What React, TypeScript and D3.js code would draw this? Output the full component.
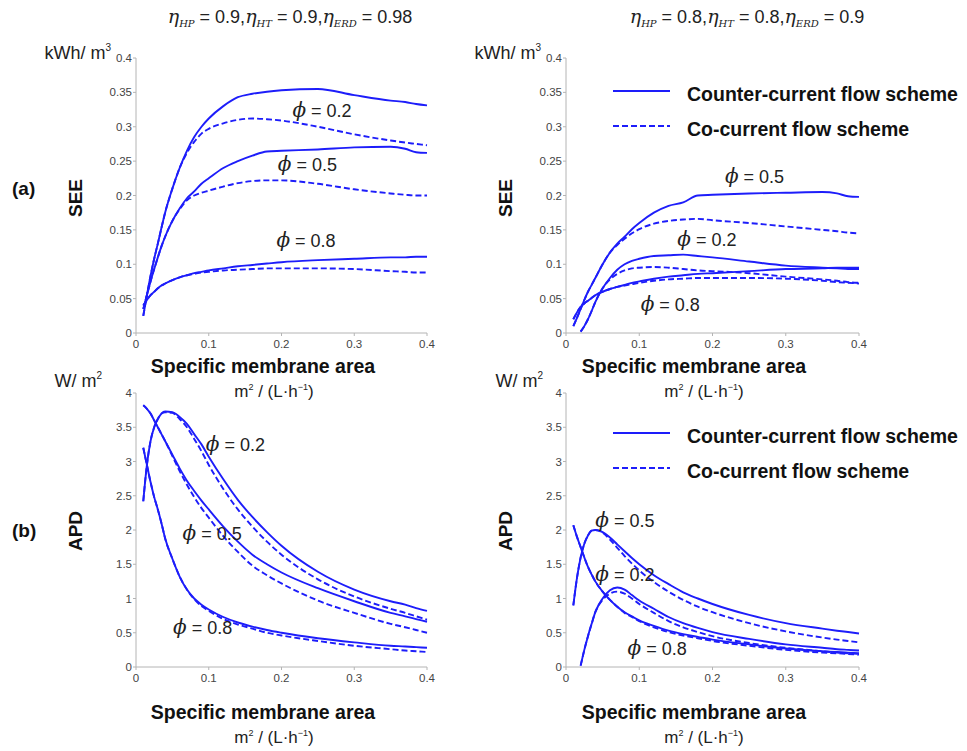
import React, { useEffect, useRef } from 'react';
import * as d3 from 'd3';

// specific membrane area, m2/(L/h)
const AREA = [0.01, 0.015, 0.02, 0.025, 0.03, 0.035, 0.04, 0.05, 0.06, 0.07, 0.08, 0.09, 0.1, 0.12, 0.14, 0.16, 0.18, 0.2, 0.25, 0.3, 0.35, 0.37, 0.385, 0.4];

// (a) SEE, eta_HP = 0.9, eta_HT = 0.9, eta_ERD = 0.98
const seeHi02Counter = [0.025, 0.055, 0.083, 0.108, 0.13, 0.153, 0.175, 0.21, 0.24, 0.265, 0.285, 0.3, 0.312, 0.33, 0.343, 0.348, 0.351, 0.353, 0.355, 0.346, 0.338, 0.336, 0.333, 0.331];
const seeHi02Co = [0.025, 0.055, 0.083, 0.108, 0.13, 0.153, 0.175, 0.21, 0.24, 0.262, 0.278, 0.29, 0.297, 0.305, 0.31, 0.312, 0.311, 0.309, 0.3, 0.289, 0.28, 0.277, 0.275, 0.273];
const seeHi05Counter = [0.035, 0.055, 0.075, 0.093, 0.11, 0.126, 0.14, 0.163, 0.181, 0.196, 0.206, 0.217, 0.225, 0.24, 0.25, 0.258, 0.264, 0.265, 0.267, 0.27, 0.271, 0.268, 0.263, 0.262];
const seeHi05Co = [0.035, 0.055, 0.075, 0.093, 0.11, 0.126, 0.14, 0.163, 0.18, 0.193, 0.2, 0.204, 0.207, 0.213, 0.218, 0.221, 0.222, 0.222, 0.217, 0.209, 0.203, 0.201, 0.2, 0.2];
const seeHi08Counter = [0.04, 0.048, 0.055, 0.06, 0.065, 0.069, 0.072, 0.077, 0.081, 0.084, 0.087, 0.089, 0.091, 0.094, 0.097, 0.099, 0.101, 0.103, 0.106, 0.108, 0.11, 0.11, 0.111, 0.111];
const seeHi08Co = [0.04, 0.048, 0.055, 0.06, 0.065, 0.069, 0.072, 0.077, 0.081, 0.084, 0.086, 0.088, 0.089, 0.091, 0.092, 0.093, 0.094, 0.094, 0.094, 0.093, 0.09, 0.089, 0.088, 0.088];

// (a) SEE, eta_HP = 0.8, eta_HT = 0.8, eta_ERD = 0.9
const seeLo05Counter = [0.01, 0.022, 0.035, 0.048, 0.06, 0.07, 0.08, 0.1, 0.117, 0.13, 0.14, 0.151, 0.16, 0.175, 0.185, 0.19, 0.2, 0.201, 0.203, 0.204, 0.205, 0.203, 0.199, 0.198];
const seeLo05Co = [0.01, 0.022, 0.035, 0.048, 0.06, 0.07, 0.08, 0.1, 0.117, 0.128, 0.137, 0.145, 0.151, 0.159, 0.163, 0.165, 0.166, 0.164, 0.16, 0.155, 0.15, 0.148, 0.146, 0.145];
const seeLo02Counter = [null, null, 0.002, 0.01, 0.02, 0.032, 0.045, 0.065, 0.08, 0.092, 0.1, 0.105, 0.108, 0.112, 0.113, 0.114, 0.112, 0.11, 0.104, 0.098, 0.095, 0.094, 0.093, 0.093];
const seeLo02Co = [null, null, 0.002, 0.01, 0.02, 0.032, 0.045, 0.065, 0.078, 0.086, 0.091, 0.094, 0.095, 0.096, 0.095, 0.093, 0.091, 0.09, 0.087, 0.082, 0.078, 0.076, 0.074, 0.073];
const seeLo08Counter = [0.02, 0.03, 0.038, 0.043, 0.047, 0.051, 0.055, 0.06, 0.064, 0.067, 0.07, 0.073, 0.075, 0.079, 0.082, 0.084, 0.086, 0.087, 0.09, 0.093, 0.094, 0.095, 0.095, 0.095];
const seeLo08Co = [0.02, 0.03, 0.038, 0.043, 0.047, 0.051, 0.055, 0.06, 0.064, 0.067, 0.069, 0.071, 0.073, 0.076, 0.078, 0.079, 0.08, 0.08, 0.08, 0.079, 0.076, 0.074, 0.073, 0.072];

// (b) APD, eta_HP = 0.9, eta_HT = 0.9, eta_ERD = 0.98
const apdHi02Counter = [2.42, 2.95, 3.3, 3.5, 3.62, 3.7, 3.73, 3.72, 3.65, 3.55, 3.4, 3.25, 3.07, 2.74, 2.44, 2.19, 1.97, 1.77, 1.39, 1.13, 0.96, 0.91, 0.86, 0.82];
const apdHi02Co = [2.42, 2.95, 3.3, 3.5, 3.62, 3.7, 3.72, 3.71, 3.62, 3.5, 3.33, 3.15, 2.95, 2.6, 2.3, 2.05, 1.83, 1.64, 1.28, 1.03, 0.85, 0.79, 0.74, 0.69];
const apdHi05Counter = [3.82, 3.77, 3.7, 3.6, 3.5, 3.4, 3.3, 3.1, 2.9, 2.72, 2.57, 2.43, 2.3, 2.05, 1.83, 1.64, 1.5, 1.38, 1.15, 0.96, 0.79, 0.74, 0.7, 0.66];
const apdHi05Co = [3.82, 3.77, 3.7, 3.6, 3.5, 3.4, 3.3, 3.08, 2.86, 2.66, 2.48, 2.32, 2.18, 1.91, 1.68, 1.48, 1.34, 1.22, 0.97, 0.79, 0.63, 0.58, 0.54, 0.5];
const apdHi08Counter = [3.2, 2.95, 2.7, 2.48, 2.3, 2.1, 1.88, 1.58, 1.32, 1.13, 1.0, 0.91, 0.84, 0.73, 0.65, 0.59, 0.54, 0.5, 0.42, 0.36, 0.31, 0.3, 0.29, 0.28];
const apdHi08Co = [3.2, 2.95, 2.7, 2.48, 2.3, 2.1, 1.88, 1.58, 1.32, 1.13, 0.99, 0.89, 0.82, 0.7, 0.62, 0.56, 0.5, 0.46, 0.38, 0.31, 0.26, 0.24, 0.23, 0.22];

// (b) APD, eta_HP = 0.8, eta_HT = 0.8, eta_ERD = 0.9
const apdLo05Counter = [0.9, 1.3, 1.6, 1.8, 1.92, 1.99, 2.0, 1.97, 1.89, 1.79, 1.69, 1.59, 1.5, 1.34, 1.21, 1.09, 1.0, 0.92, 0.76, 0.64, 0.56, 0.53, 0.51, 0.49];
const apdLo05Co = [0.9, 1.3, 1.6, 1.8, 1.92, 1.99, 2.0, 1.96, 1.86, 1.74, 1.62, 1.51, 1.41, 1.24, 1.1, 0.98, 0.88, 0.8, 0.64, 0.52, 0.43, 0.4, 0.38, 0.36];
const apdLo02Counter = [null, null, 0.02, 0.25, 0.45, 0.63, 0.8, 1.0, 1.12, 1.16, 1.13, 1.05, 0.97, 0.85, 0.73, 0.64, 0.57, 0.51, 0.41, 0.33, 0.28, 0.26, 0.25, 0.24];
const apdLo02Co = [null, null, 0.02, 0.25, 0.45, 0.63, 0.8, 0.98, 1.07, 1.1, 1.07, 1.0, 0.92, 0.79, 0.67, 0.58, 0.51, 0.45, 0.35, 0.28, 0.23, 0.21, 0.2, 0.19];
const apdLo08Counter = [2.07, 1.9, 1.75, 1.6, 1.46, 1.35, 1.25, 1.1, 0.98, 0.88, 0.8, 0.74, 0.68, 0.6, 0.53, 0.48, 0.44, 0.4, 0.33, 0.27, 0.23, 0.22, 0.21, 0.2];
const apdLo08Co = [2.07, 1.9, 1.75, 1.6, 1.46, 1.35, 1.25, 1.1, 0.98, 0.88, 0.79, 0.73, 0.67, 0.58, 0.51, 0.46, 0.42, 0.38, 0.31, 0.25, 0.21, 0.2, 0.19, 0.18];

const X_TICKS = [0, 0.1, 0.2, 0.3, 0.4];
const SEE_TICKS = [0, 0.05, 0.1, 0.15, 0.2, 0.25, 0.3, 0.35, 0.4];
const APD_TICKS = [0, 0.5, 1, 1.5, 2, 2.5, 3, 3.5, 4];

const BLUE = '#1d1dfa';
const SANS = "'Liberation Sans', Arial, sans-serif";
const SERIF = "'DejaVu Serif', serif";
const PHI = '\u03D5';

const panels = [
  {
    box: [136, 427, 58, 333], yMax: 0.4, yTicks: SEE_TICKS,
    series: [[seeHi02Counter, seeHi02Co], [seeHi05Counter, seeHi05Co], [seeHi08Counter, seeHi08Co]],
    labels: [['0.2', 0.215, 0.322], ['0.5', 0.195, 0.244], ['0.8', 0.193, 0.133]],
  },
  {
    box: [566, 859, 58, 333], yMax: 0.4, yTicks: SEE_TICKS,
    series: [[seeLo05Counter, seeLo05Co], [seeLo02Counter, seeLo02Co], [seeLo08Counter, seeLo08Co]],
    labels: [['0.5', 0.217, 0.227], ['0.2', 0.152, 0.134], ['0.8', 0.102, 0.04]],
  },
  {
    box: [136, 427, 393, 667], yMax: 4, yTicks: APD_TICKS,
    series: [[apdHi02Counter, apdHi02Co], [apdHi05Counter, apdHi05Co], [apdHi08Counter, apdHi08Co]],
    labels: [['0.2', 0.096, 3.23], ['0.5', 0.064, 1.93], ['0.8', 0.051, 0.57]],
  },
  {
    box: [566, 859, 393, 667], yMax: 4, yTicks: APD_TICKS,
    series: [[apdLo05Counter, apdLo05Co], [apdLo02Counter, apdLo02Co], [apdLo08Counter, apdLo08Co]],
    labels: [['0.5', 0.04, 2.13], ['0.2', 0.04, 1.34], ['0.8', 0.084, 0.26]],
  },
];

function mixed(sel, parts) {
  parts.forEach(p => {
    const ts = sel.append('tspan').text(p.t);
    if (p.italic) ts.attr('font-style', 'italic');
    if (p.family) ts.attr('font-family', p.family);
    if (p.size) ts.attr('font-size', p.size);
    if (p.dy) ts.attr('dy', p.dy);
  });
}

export default function App() {
  const svgRef = useRef(null);

  useEffect(() => {
    const svg = d3.select(svgRef.current);
    svg.selectAll('*').remove();

    panels.forEach(p => {
      const [x0, x1, y0, y1] = p.box;
      const x = d3.scaleLinear().domain([0, 0.4]).range([x0, x1]);
      const y = d3.scaleLinear().domain([0, p.yMax]).range([y1, y0]);
      const g = svg.append('g');

      // axes
      g.append('line').attr('x1', x0).attr('x2', x0).attr('y1', y0).attr('y2', y1)
        .attr('stroke', '#b4b4b4').attr('stroke-width', 1);
      g.append('line').attr('x1', x0).attr('x2', x1).attr('y1', y1).attr('y2', y1)
        .attr('stroke', '#b4b4b4').attr('stroke-width', 1);

      p.yTicks.forEach(t => {
        g.append('line').attr('x1', x0 - 3).attr('x2', x0).attr('y1', y(t)).attr('y2', y(t))
          .attr('stroke', '#b4b4b4');
        g.append('text')
          .attr('x', x0 - 4).attr('y', y(t)).attr('dy', '0.35em')
          .attr('text-anchor', 'end')
          .attr('font-family', SANS).attr('font-size', 11.5).attr('fill', '#444')
          .text(String(+t.toFixed(2)));
      });
      X_TICKS.forEach(t => {
        g.append('line').attr('x1', x(t)).attr('x2', x(t)).attr('y1', y1).attr('y2', y1 + 3)
          .attr('stroke', '#b4b4b4');
        g.append('text')
          .attr('x', x(t)).attr('y', y1 + 15)
          .attr('text-anchor', 'middle')
          .attr('font-family', SANS).attr('font-size', 11.5).attr('fill', '#444')
          .text(String(t));
      });

      // curves
      p.series.forEach(([counter, co]) => {
        [counter, co].forEach((vals, k) => {
          const pts = AREA.map((a, i) => [a, vals[i]]);
          const line = d3.line()
            .defined(d => d[1] != null)
            .x(d => x(d[0]))
            .y(d => y(d[1]))
            .curve(d3.curveMonotoneX);
          g.append('path')
            .attr('d', line(pts))
            .attr('fill', 'none')
            .attr('stroke', BLUE)
            .attr('stroke-width', 1.9)
            .attr('stroke-dasharray', k === 1 ? '6,3' : null);
        });
      });

      // phi labels
      p.labels.forEach(([v, lx, ly]) => {
        const t = g.append('text')
          .attr('x', x(lx)).attr('y', y(ly)).attr('dy', '0.35em')
          .attr('fill', '#222');
        mixed(t, [
          { t: PHI, italic: true, family: SERIF, size: 20 },
          { t: ' = ' + v, family: SANS, size: 18 },
        ]);
      });
    });

    // titles
    const title = (cx, vals) => {
      const t = svg.append('text').attr('x', cx).attr('y', 23)
        .attr('text-anchor', 'middle').attr('fill', '#222');
      const subs = ['HP', 'HT', 'ERD'];
      const parts = [];
      subs.forEach((s, i) => {
        parts.push({ t: '\u03B7', italic: true, family: SERIF, size: 19 });
        parts.push({ t: s, italic: true, family: SERIF, size: 10, dy: 4 });
        parts.push({ t: ' = ' + vals[i] + (i < 2 ? ',' : ''), family: SANS, size: 18, dy: -4 });
      });
      mixed(t, parts);
    };
    title(290, ['0.9', '0.9', '0.98']);
    title(747, ['0.8', '0.8', '0.9']);

    // y units
    const unit = (xEnd, yy, base, sup) => {
      const t = svg.append('text').attr('x', xEnd).attr('y', yy)
        .attr('text-anchor', 'end').attr('fill', '#222');
      mixed(t, [
        { t: base, family: SANS, size: 18 },
        { t: sup, family: SANS, size: 10, dy: -8 },
      ]);
    };
    unit(111, 59, 'kWh/ m', '3');
    unit(541, 59, 'kWh/ m', '3');
    unit(102, 387, 'W/ m', '2');
    unit(543, 387, 'W/ m', '2');

    // y titles (rotated)
    const yTitle = (cx, cy, txt) => {
      svg.append('text')
        .attr('transform', `translate(${cx},${cy}) rotate(-90)`)
        .attr('text-anchor', 'middle').attr('dy', '0.35em')
        .attr('font-family', SANS).attr('font-weight', 'bold').attr('font-size', 19)
        .attr('fill', '#111')
        .text(txt);
    };
    yTitle(75, 198, 'SEE');
    yTitle(505, 198, 'SEE');
    yTitle(75, 531, 'APD');
    yTitle(505, 531, 'APD');

    // row tags
    [['(a)', 188], ['(b)', 530]].forEach(([s, yy]) => {
      svg.append('text').attr('x', 12).attr('y', yy).attr('dy', '0.35em')
        .attr('font-family', SANS).attr('font-weight', 'bold').attr('font-size', 19)
        .attr('fill', '#111').text(s);
    });

    // x titles
    const xTitle = (cx, ux, yy) => {
      svg.append('text').attr('x', cx).attr('y', yy)
        .attr('text-anchor', 'middle')
        .attr('font-family', SANS).attr('font-weight', 'bold').attr('font-size', 19.5)
        .attr('fill', '#111').text('Specific membrane area');
      const t = svg.append('text').attr('x', ux).attr('y', yy + 24)
        .attr('text-anchor', 'middle').attr('fill', '#222');
      mixed(t, [
        { t: 'm', family: SANS, size: 17 },
        { t: '2', family: SANS, size: 9, dy: -7 },
        { t: ' / (L\u00B7h', family: SANS, size: 17, dy: 7 },
        { t: '\u22121', family: SANS, size: 9, dy: -7 },
        { t: ')', family: SANS, size: 17, dy: 7 },
      ]);
    };
    xTitle(263, 274, 373);
    xTitle(694, 704, 373);
    xTitle(263, 274, 719);
    xTitle(694, 704, 719);

    // legends
    const legend = (yy) => {
      [['Counter-current flow scheme', null, 0], ['Co-current flow scheme', '6,3', 35]].forEach(([txt, dash, off]) => {
        svg.append('line').attr('x1', 613).attr('x2', 670)
          .attr('y1', yy + off).attr('y2', yy + off)
          .attr('stroke', BLUE).attr('stroke-width', 1.9)
          .attr('stroke-dasharray', dash);
        svg.append('text').attr('x', 687).attr('y', yy + off + 3).attr('dy', '0.35em')
          .attr('font-family', SANS).attr('font-weight', 'bold').attr('font-size', 19.5)
          .attr('fill', '#111').text(txt);
      });
    };
    legend(91);
    legend(433);
  }, []);

  return (
    <svg ref={svgRef} width={967} height={751}
      style={{ position: 'absolute', left: 0, top: 0, background: '#fff' }} />
  );
}
